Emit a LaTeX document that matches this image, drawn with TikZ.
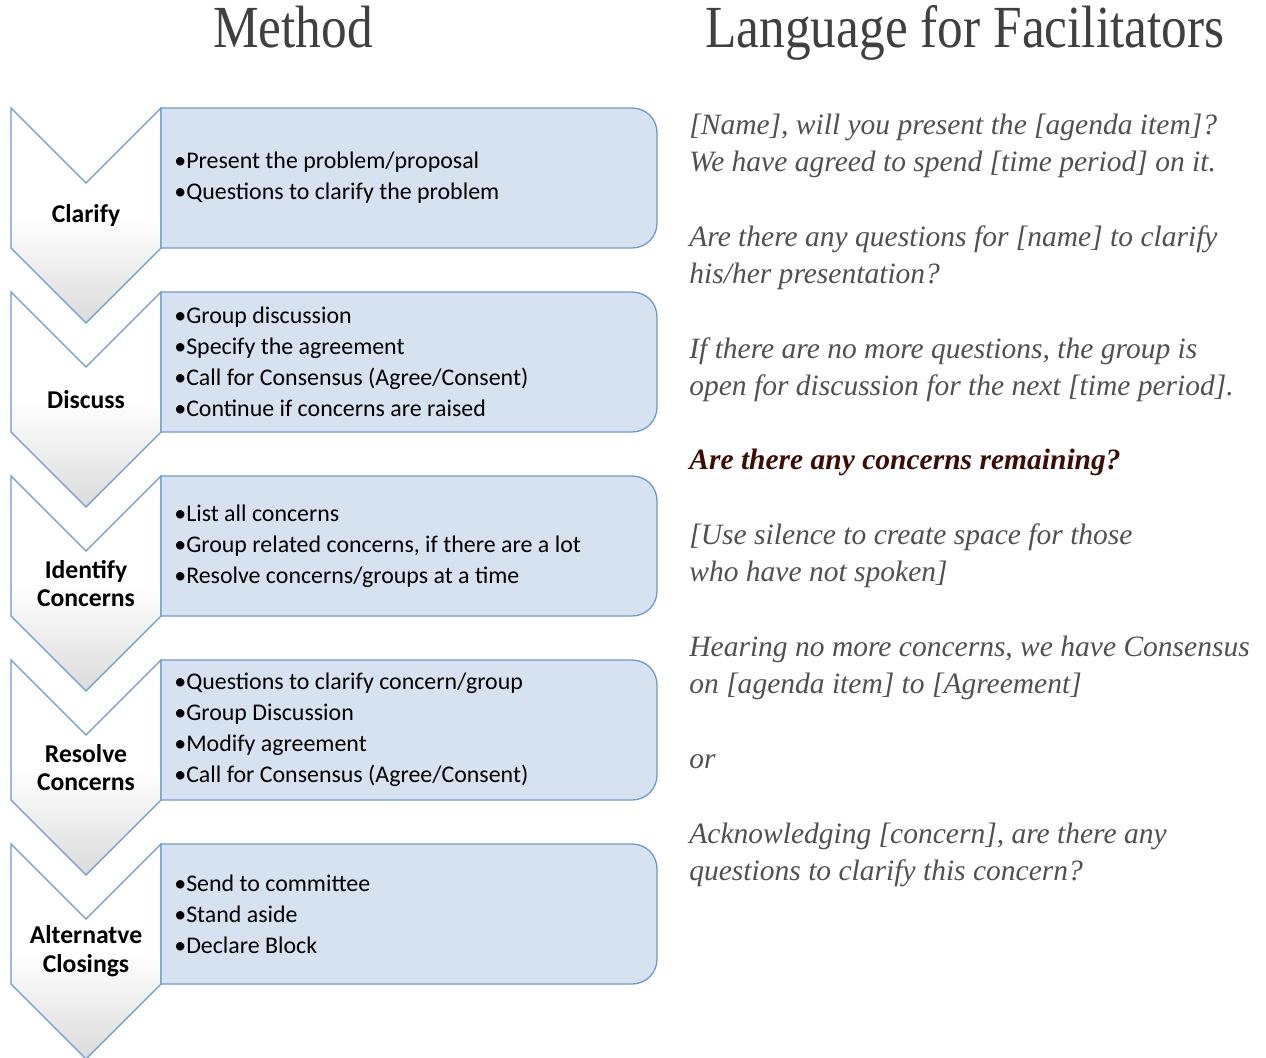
\documentclass[tikz,border=0pt]{standalone}
\usepackage{fontspec}
\setmainfont{Liberation Serif}
\setsansfont{Carlito}
\newfontfamily\titlefont[FakeStretch=0.86]{Liberation Serif}
\usetikzlibrary{positioning}

\definecolor{chevblue}{RGB}{106,155,209}
\definecolor{boxfill}{RGB}{214,226,240}
\definecolor{titlegray}{RGB}{64,64,64}
\definecolor{talkgray}{RGB}{80,80,80}
\definecolor{askbrown}{RGB}{61,12,2}

\begin{document}
\begin{tikzpicture}[x=0.02cm,y=-0.02cm,
	stagearrow/.style={draw=chevblue, line width=0.75pt, top color=white, bottom color=black!14, middle color=white},
	stagebox/.style={draw=chevblue, line width=0.75pt, fill=boxfill},
	stagelabel/.style={align=center, inner sep=0pt, font=\sffamily\bfseries\fontsize{14.6}{16.4}\selectfont},
	stagepoints/.style={align=left, inner sep=0pt, font=\sffamily\fontsize{13.6}{17.6}\selectfont},
	heading/.style={inner sep=0pt, text=titlegray, font=\titlefont\fontsize{34}{40}\selectfont},
	talk/.style={align=left, inner sep=0pt, text=talkgray, font=\itshape\fontsize{16.8}{21}\selectfont}]

	\useasboundingbox (0,0) rectangle (1266,1057);

	% Column headings
	\node[heading, anchor=base] (method) at (293,48) {Method};
	\node[heading, anchor=base] (language) at (965,48) {Language for Facilitators};

	% Draw the five stages: chevron on the left, list box on the right
	\foreach \t/\stage/\caption/\points in {
		108/clarify/{Clarify}/{•Present the problem/proposal\\•Questions to clarify the problem},
		292/discuss/{Discuss}/{•Group discussion\\•Specify the agreement\\•Call for Consensus (Agree/Consent)\\•Continue if concerns are raised},
		476/identify/{Identify\\Concerns}/{•List all concerns\\•Group related concerns, if there are a lot\\•Resolve concerns/groups at a time},
		660/resolve/{Resolve\\Concerns}/{•Questions to clarify concern/group\\•Group Discussion\\•Modify agreement\\•Call for Consensus (Agree/Consent)},
		844/closings/{Alternatve\\Closings}/{•Send to committee\\•Stand aside\\•Declare Block}}
	{
		% chevron
		\draw[stagearrow] (11,\t) -- (86,\t+75) -- (161,\t) -- (161,\t+140) -- (86,\t+215) -- (11,\t+140) -- cycle;
		\node[stagelabel] (\stage) at (86,\t+107.5) {\caption};
		% box, rounded on the right only
		\draw[stagebox] (161,\t) -- (632,\t) .. controls (646,\t) and (657,\t+11) .. (657,\t+25)
			-- (657,\t+115) .. controls (657,\t+129) and (646,\t+140) .. (632,\t+140) -- (161,\t+140) -- cycle;
		\node[stagepoints, anchor=west] (\stage-points) at (174,\t+70) {\points};
	}

	% What the facilitator says (base anchor = last line)
	\node[talk, anchor=base west] (ask-present) at (689,171.3) {[Name], will you present the [agenda item]?\\We have agreed to spend [time period] on it.};
	\node[talk, anchor=base west] (ask-questions) at (689,283.2) {Are there any questions for [name] to clarify\\his/her presentation?};
	\node[talk, anchor=base west] (open-discussion) at (689,395.1) {If there are no more questions, the group is\\open for discussion for the next [time period].};
	\node[talk, anchor=base west, text=askbrown, font=\itshape\bfseries\fontsize{16.8}{21}\selectfont] (ask-concerns) at (689,469.7) {Are there any concerns remaining?};
	\node[talk, anchor=base west] (use-silence) at (689,581.6) {[Use silence to create space for those\\who have not spoken]};
	\node[talk, anchor=base west] (consensus) at (689,693.5) {Hearing no more concerns, we have Consensus\\on [agenda item] to [Agreement]};
	\node[talk, anchor=base west] (or) at (689,768.1) {or};
	\node[talk, anchor=base west] (acknowledge) at (689,880) {Acknowledging [concern], are there any\\questions to clarify this concern?};

\end{tikzpicture}
\end{document}
